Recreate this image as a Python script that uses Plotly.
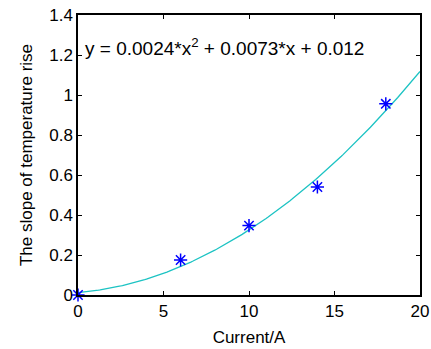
import numpy as np
import plotly.graph_objects as go

current = [0, 6, 10, 14, 18]
slope = [0.0, 0.175, 0.347, 0.54, 0.956]
coeffs = [0.0024, 0.0073, 0.012]  # fitted quadratic shown on chart

xfit = np.linspace(0, 20, 201)
yfit = np.polyval(coeffs, xfit)

FONT = "Liberation Sans, Arial"

fig = go.Figure()
fig.add_trace(go.Scatter(x=xfit, y=yfit, mode="lines",
                         line=dict(color="#1cc3c3", width=1.3),
                         showlegend=False))
fig.add_trace(go.Scatter(x=current, y=slope, mode="markers",
                         marker=dict(symbol="asterisk-open", size=11,
                                     line=dict(color="#0000ff", width=1.5),
                                     color="#0000ff"),
                         showlegend=False, cliponaxis=False))

axis_common = dict(showgrid=False, zeroline=False, showline=True,
                   linecolor="black", linewidth=1.5, mirror="ticks",
                   ticks="inside", ticklen=4, tickwidth=1, tickcolor="black",
                   automargin=False,
                   tickfont=dict(family=FONT, size=17, color="black"))

fig.update_xaxes(range=[0, 20], tickvals=[0, 5, 10, 15, 20],
                 title=dict(text="Current/A", standoff=11,
                            font=dict(family=FONT, size=17, color="black")),
                 **axis_common)
fig.update_yaxes(range=[0, 1.4], tickvals=[0, 0.2, 0.4, 0.6, 0.8, 1, 1.2, 1.4],
                 ticktext=["0", "0.2", "0.4", "0.6", "0.8", "1", "1.2", "1.4"],
                 title=dict(text="The slope of temperature rise", standoff=12,
                            font=dict(family=FONT, size=17, color="black")),
                 **axis_common)

fig.add_annotation(x=0.3, y=1.24, xanchor="left", yanchor="middle", showarrow=False,
                   text="y = 0.0024*x<sup>2</sup> + 0.0073*x + 0.012",
                   font=dict(family=FONT, size=19, color="black"))

fig.update_layout(width=431, height=349, margin=dict(l=78, r=11, t=15, b=54),
                  plot_bgcolor="white", paper_bgcolor="white")
fig.write_html("out.html")
